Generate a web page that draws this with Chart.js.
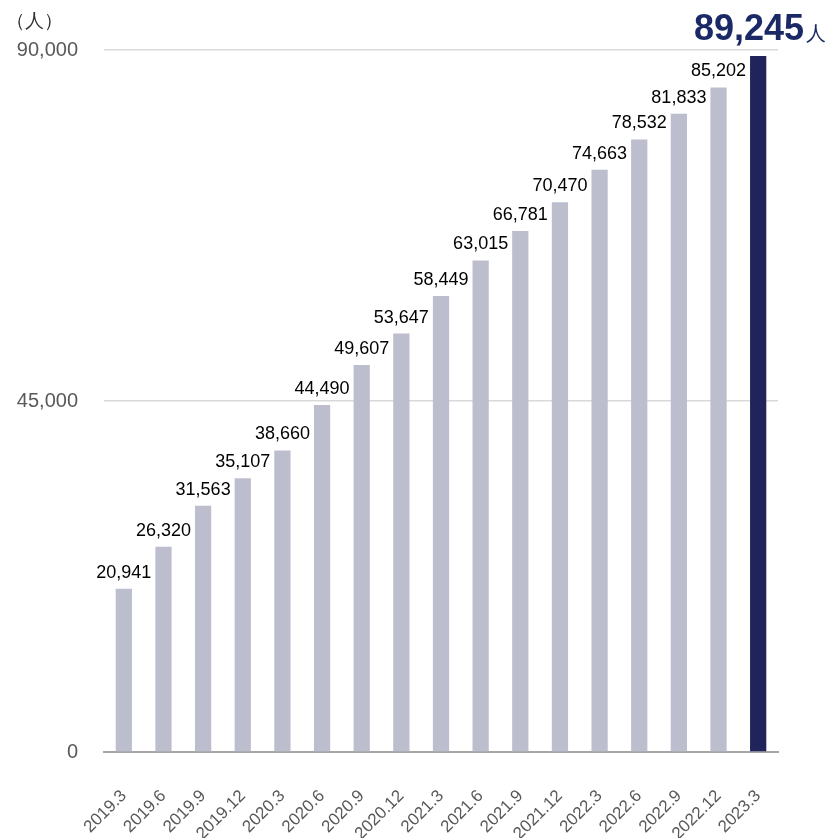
<!DOCTYPE html>
<html lang="ja">
<head>
    <meta charset="UTF-8">
    <title>会員数推移</title>
    <script src="https://cdn.jsdelivr.net/npm/chart.js"></script>
    <style>
        body { margin: 0; background: #fff; }
        #wrap { width: 832px; height: 838px; position: relative; }
    </style>
</head>
<body>
    <div id="wrap"><canvas id="chart" width="832" height="838"></canvas></div>
    <script>
        // データ
        const labels = ['2019.3', '2019.6', '2019.9', '2019.12', '2020.3', '2020.6', '2020.9', '2020.12',
            '2021.3', '2021.6', '2021.9', '2021.12', '2022.3', '2022.6', '2022.9', '2022.12', '2023.3'];
        const values = [20941, 26320, 31563, 35107, 38660, 44490, 49607, 53647,
            58449, 63015, 66781, 70470, 74663, 78532, 81833, 85202, 89245];
        const yTicks = [0, 45000, 90000];
        const unit = '（人）';

        const barColors = values.map((v, i) => i === values.length - 1 ? '#20245a' : '#bcbece');
        const fmt = n => n.toLocaleString('en-US');
        const FONT = "'Liberation Sans', Arial, sans-serif";

        // ラベル描画
        const labelPlugin = {
            id: 'labels',
            afterDatasetsDraw(chart) {
                const ctx = chart.ctx;
                const meta = chart.getDatasetMeta(0);
                ctx.save();
                ctx.textAlign = 'center';
                ctx.textBaseline = 'alphabetic';
                ctx.font = '18px ' + FONT;
                ctx.fillStyle = '#000';
                meta.data.forEach((bar, i) => {
                    if (i === values.length - 1) return;
                    ctx.fillText(fmt(values[i]), bar.x, bar.y - 11);
                });
                // 最新値
                const last = values[values.length - 1];
                ctx.font = 'bold 36px ' + FONT;
                ctx.fillStyle = '#1b2a66';
                ctx.textAlign = 'right';
                ctx.fillText(fmt(last), 804, 40);
                ctx.font = '20px ' + FONT;
                ctx.textAlign = 'left';
                ctx.fillText('人', 806, 40);
                // 単位
                ctx.font = '19px ' + FONT;
                ctx.fillStyle = '#333';
                ctx.fillText(unit, 6, 27);
                ctx.restore();
            }
        };

        new Chart(document.getElementById('chart'), {
            type: 'bar',
            data: {
                labels: labels,
                datasets: [{
                    data: values,
                    backgroundColor: barColors,
                    categoryPercentage: 1,
                    barPercentage: 0.41
                }]
            },
            options: {
                responsive: false,
                animation: false,
                layout: { padding: { top: 50, right: 54, bottom: 0, left: 0 } },
                plugins: { legend: { display: false }, tooltip: { enabled: false } },
                scales: {
                    x: {
                        afterFit: s => { s.height = 86; },
                        grid: { display: false },
                        border: { color: '#a6a6a6', width: 2 },
                        ticks: {
                            color: '#595959',
                            font: { family: FONT, size: 17 },
                            minRotation: 45,
                            maxRotation: 45,
                            padding: 26
                        }
                    },
                    y: {
                        min: 0,
                        max: 90000,
                        afterFit: s => { s.width = 104; },
                        afterBuildTicks: s => { s.ticks = yTicks.map(v => ({ value: v })); },
                        border: { display: false },
                        grid: {
                            drawTicks: false,
                            color: c => c.tick.value === 0 ? 'rgba(0,0,0,0)' : '#d9d9d9',
                            lineWidth: 1.5
                        },
                        ticks: {
                            color: '#595959',
                            font: { family: FONT, size: 20 },
                            padding: 26,
                            callback: v => fmt(v)
                        }
                    }
                }
            },
            plugins: [labelPlugin]
        });
    </script>
</body>
</html>
